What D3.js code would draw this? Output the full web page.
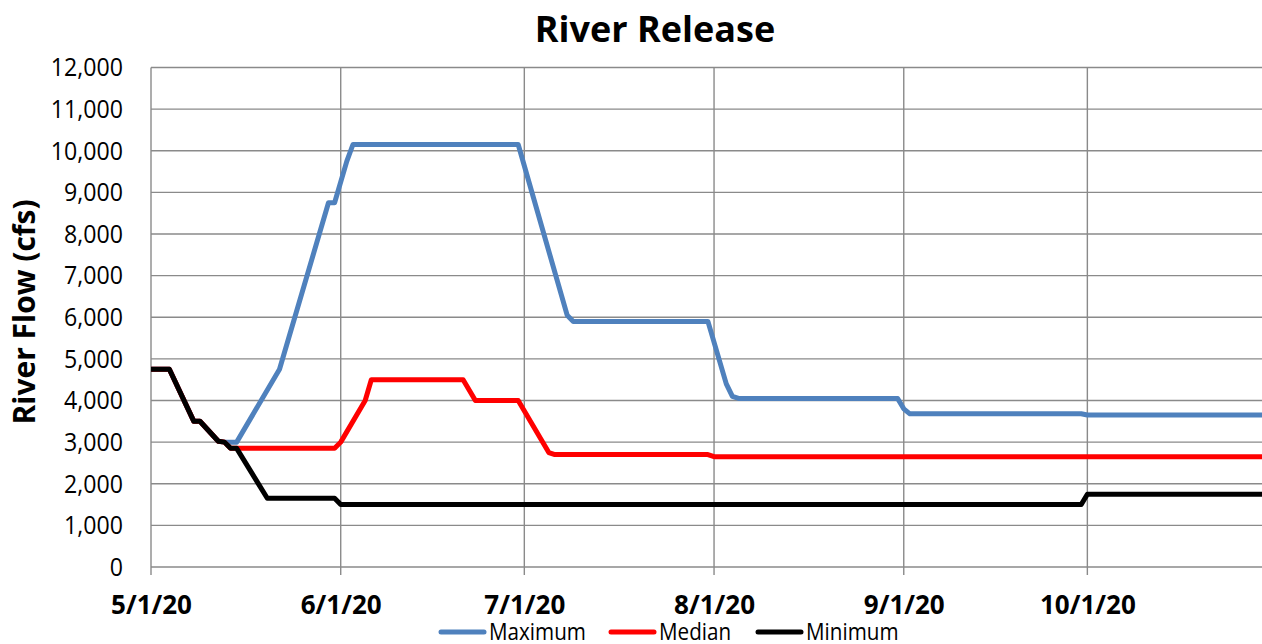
<!DOCTYPE html>
<html><head><meta charset="utf-8">
<script src="https://cdn.jsdelivr.net/npm/d3@7"></script>
<style>
html,body{margin:0;padding:0;background:#fff;overflow:hidden;}
svg{display:block;font-family:"Open Sans","Noto Sans",sans-serif;}
</style></head>
<body><svg id="chart" width="1262" height="644"></svg>
<script>
// ---- data ----
const maxDates = ["2020-05-01","2020-05-04","2020-05-08","2020-05-09","2020-05-12","2020-05-13","2020-05-15","2020-05-22","2020-05-30","2020-05-31","2020-06-02","2020-06-03","2020-06-30","2020-07-08","2020-07-09","2020-07-31","2020-08-03","2020-08-04","2020-08-05","2020-08-31","2020-09-01","2020-09-02","2020-09-30","2020-10-01","2020-10-31"];
const maxValues = [4750,4750,3500,3500,3020,3000,3000,4750,8750,8750,9750,10150,10150,6050,5900,5900,4400,4100,4050,4050,3800,3680,3680,3650,3650];

const medDates = ["2020-05-01","2020-05-04","2020-05-08","2020-05-09","2020-05-12","2020-05-13","2020-05-14","2020-05-31","2020-06-01","2020-06-05","2020-06-06","2020-06-21","2020-06-23","2020-06-30","2020-07-05","2020-07-06","2020-07-31","2020-08-01","2020-10-31"];
const medValues = [4750,4750,3500,3500,3020,3000,2850,2850,3000,4000,4500,4500,4000,4000,2750,2700,2700,2650,2650];

const minDates = ["2020-05-01","2020-05-04","2020-05-08","2020-05-09","2020-05-12","2020-05-13","2020-05-14","2020-05-15","2020-05-20","2020-05-31","2020-06-01","2020-09-30","2020-10-01","2020-10-31"];
const minValues = [4750,4750,3500,3500,3020,3000,2850,2850,1650,1650,1500,1500,1750,1750];

const tickDates = ["2020-05-01","2020-06-01","2020-07-01","2020-08-01","2020-09-01","2020-10-01"];
const tickLabels = ["5/1/20","6/1/20","7/1/20","8/1/20","9/1/20","10/1/20"];
const yTicks = [0,1000,2000,3000,4000,5000,6000,7000,8000,9000,10000,11000,12000];
const seriesNames = ["Maximum","Median","Minimum"];
const seriesColors = ["#4f81bd","#ff0000","#000000"];

// ---- chart ----
(function () {
const svg = d3.select("#chart");
const parse = d3.utcParse("%Y-%m-%d");
const pLeft = 151, pTop = 67.5, pBottom = 567;
const x = d3.scaleUtc()
  .domain([parse("2020-05-01"), parse("2020-10-31")])
  .range([pLeft, pLeft + 183 * 6.12]);
const y = d3.scaleLinear().domain([0, 12000]).range([pBottom, pTop]);
const W = 1262;
const gridColor = "#8a8a8a";
const FF = "'Open Sans','Noto Sans',sans-serif";

svg.append("g").selectAll("line").data(yTicks).join("line")
  .attr("x1", pLeft).attr("x2", W)
  .attr("y1", d => y(d)).attr("y2", d => y(d))
  .attr("stroke", gridColor).attr("stroke-width", 1.4);
svg.append("g").selectAll("line").data(tickDates).join("line")
  .attr("x1", d => x(parse(d))).attr("x2", d => x(parse(d)))
  .attr("y1", pTop).attr("y2", pBottom + 8)
  .attr("stroke", gridColor).attr("stroke-width", 1.4);

const yAxis = d3.axisLeft(y).tickValues(yTicks).tickFormat(d3.format(",")).tickSize(0).tickPadding(0);
const ya = svg.append("g").attr("transform", `translate(${pLeft - 28},0)`).call(yAxis);
ya.select(".domain").remove();
ya.selectAll("text").attr("font-size", 26).attr("fill", "#000")
  .attr("font-family", FF).attr("transform", "scale(0.89,1)");

const xAxis = d3.axisBottom(x).tickValues(tickDates.map(parse))
  .tickFormat((d, i) => tickLabels[i]).tickSize(0).tickPadding(0);
const xa = svg.append("g").attr("transform", `translate(0,${pBottom + 47})`).call(xAxis);
xa.select(".domain").remove();
xa.selectAll("text").attr("font-size", 26).attr("font-weight", "bold").attr("fill", "#000")
  .attr("font-family", FF).attr("dy", 0);

const series = [
  {dates: maxDates, values: maxValues},
  {dates: medDates, values: medValues},
  {dates: minDates, values: minValues}
];
const line = d3.line().x(d => x(d[0])).y(d => y(d[1]));
series.forEach((s, i) => {
  const pts = s.dates.map((d, j) => [parse(d), s.values[j]]);
  svg.append("path").attr("d", line(pts))
    .attr("fill", "none").attr("stroke", seriesColors[i])
    .attr("stroke-width", 5).attr("stroke-linejoin", "round").attr("stroke-linecap", "butt");
});

svg.append("text").attr("x", 655).attr("y", 42).attr("text-anchor", "middle")
  .attr("font-size", 36).attr("font-weight", "bold").text("River Release");

svg.append("text").attr("transform", "translate(35,312) rotate(-90)")
  .attr("text-anchor", "middle").attr("font-size", 30).attr("font-weight", "bold")
  .text("River Flow (cfs)");

const legX = [439, 609, 756];
const lg = svg.append("g");
seriesNames.forEach((n, i) => {
  lg.append("line").attr("x1", legX[i] + 2).attr("x2", legX[i] + 45)
    .attr("y1", 632).attr("y2", 632)
    .attr("stroke", seriesColors[i]).attr("stroke-width", 5).attr("stroke-linecap", "round");
  lg.append("text").attr("transform", `translate(${legX[i] + 50},640) scale(0.86,1)`)
    .attr("font-size", 24).text(n);
});
})();
</script></body></html>
